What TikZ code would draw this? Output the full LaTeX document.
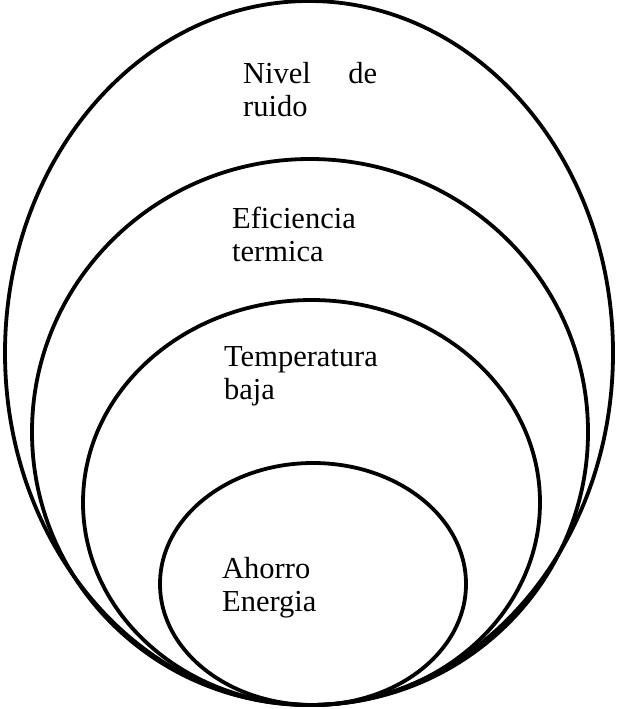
\documentclass[tikz,border=0pt]{standalone}
\usepackage{fontspec}
\setmainfont{Liberation Serif}
\usetikzlibrary{positioning,shapes.geometric}

\begin{document}
\begin{tikzpicture}[x=1pt,y=-1pt]
    \useasboundingbox (0,0) rectangle (619,709);
    %%%%% THE ELLIPSES
    \begin{scope}[every node/.style={shape=ellipse,draw,line width=3.8pt,inner sep=0pt}]
      \node (RUIDO) [minimum width=608pt,minimum height=704pt] at (309,353) {};
      \node (TERMICA) [minimum width=556pt,minimum height=546pt] at (310,432) {};
      \node (TEMP) [minimum width=457pt,minimum height=405pt] at (311.5,502.5) {};
      \node (AHORRO) [minimum width=306pt,minimum height=242pt] at (313,584) {};
    \end{scope}
    %%%%% THE LABELS
    \begin{scope}[every node/.style={font=\fontsize{30.5}{33}\selectfont,align=left,anchor=base west,inner sep=0pt}]
      \node (RUIDOTXT) [text width=134pt] at (243,83) {Nivel\hfill de\\ruido};
      \node (TERMICATXT) [text width=160pt] at (232,228) {Eficiencia\\termica};
      \node (TEMPTXT) [text width=180pt] at (224,366) {Temperatura\\baja};
      \node (AHORROTXT) [text width=130pt] at (222,578) {Ahorro\\Energia};
    \end{scope}
\end{tikzpicture}
\end{document}
